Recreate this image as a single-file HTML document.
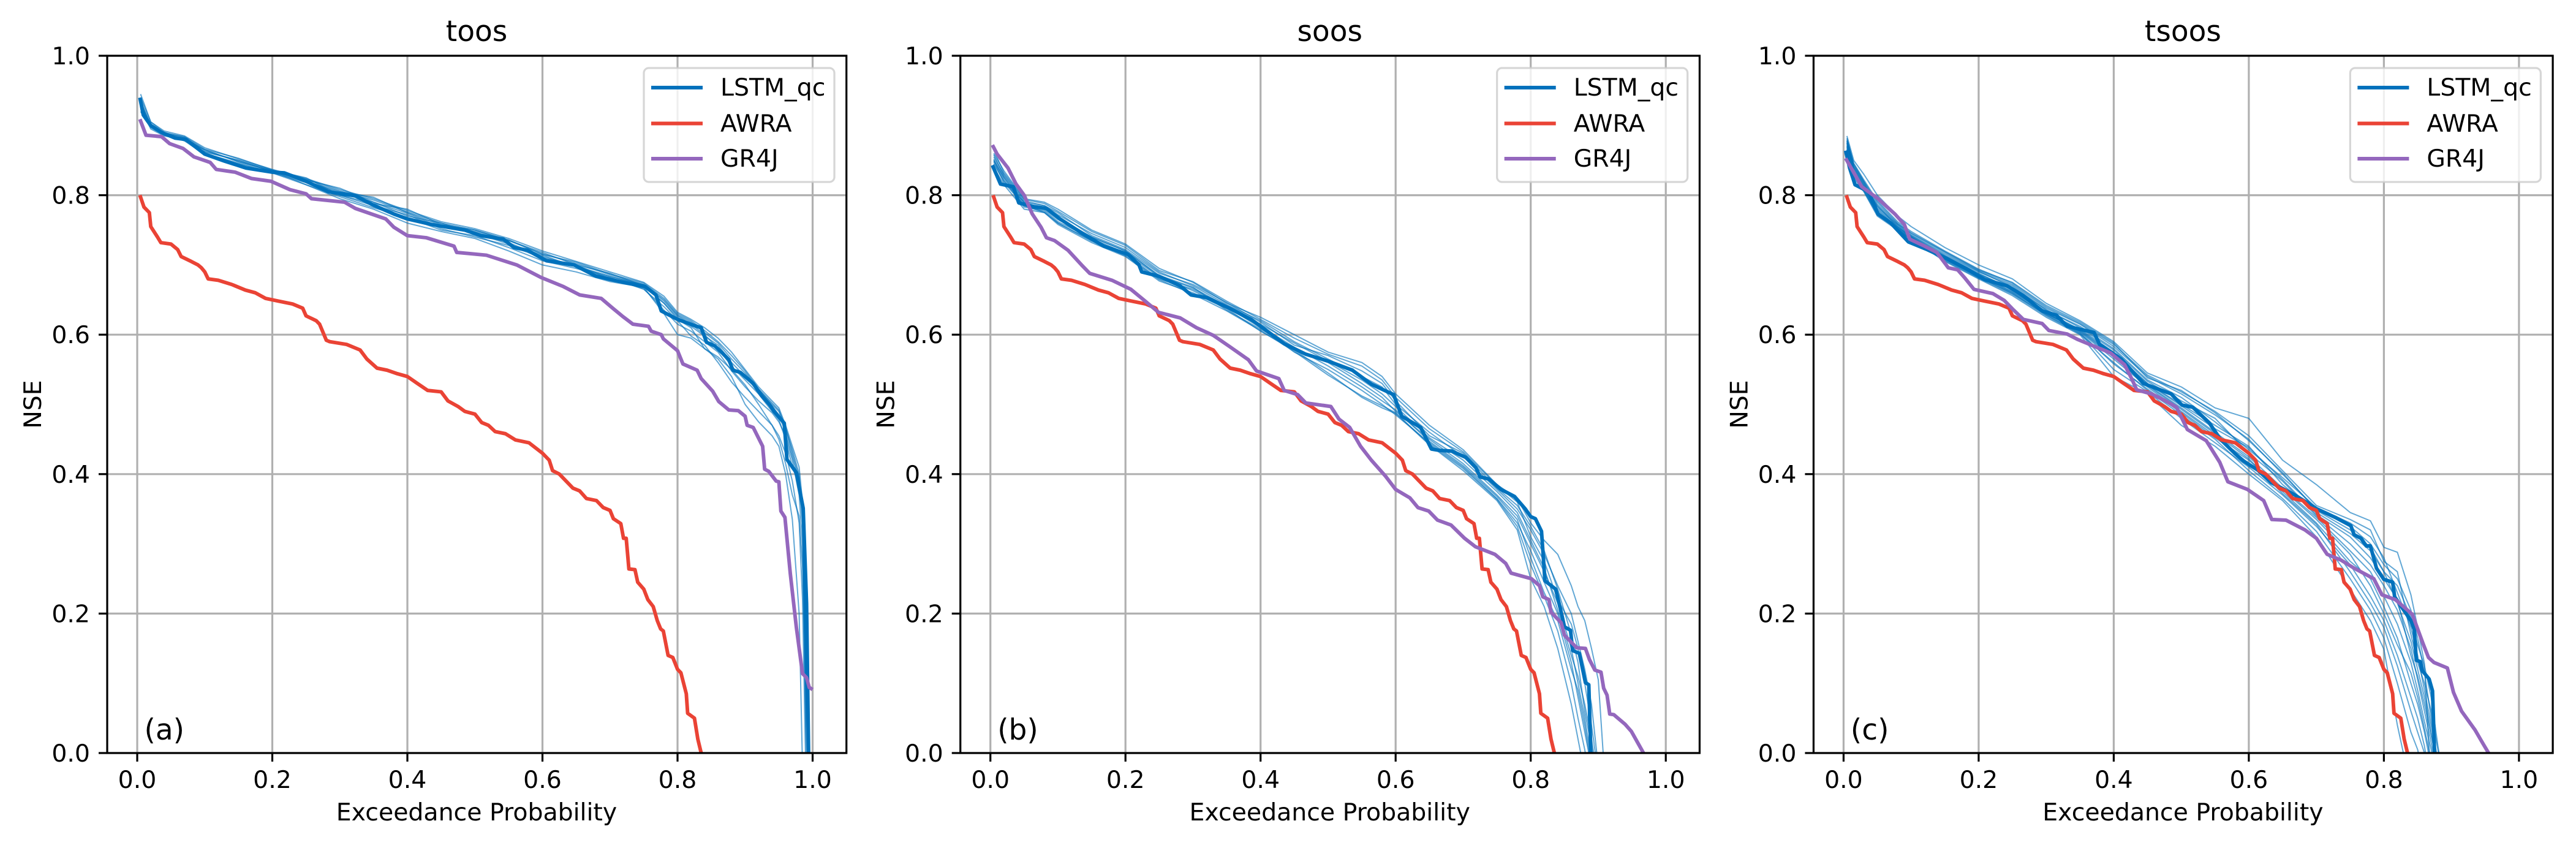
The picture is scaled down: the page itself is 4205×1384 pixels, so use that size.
<!DOCTYPE html>
<html lang="en">
<head>
<meta charset="utf-8">
<title>NSE exceedance curves</title>
<style>
html,body{margin:0;padding:0;background:#fff;overflow:hidden;width:4205px;height:1384px;}
svg{display:block;font-family:"DejaVu Sans","Liberation Sans",sans-serif;fill:#000;overflow:hidden;}
.tick-label,.axis-label,.legend-label{font-size:39.4px;}
.panel-title,.panel-letter{font-size:47px;}
polyline{fill:none;stroke-linejoin:round;stroke-linecap:butt;}
</style>
</head>
<body>
<svg id="figure" xmlns="http://www.w3.org/2000/svg" width="4205" height="1384" viewBox="0 0 4205 1384">
  <rect width="4205" height="1384" fill="#fff"/>
  <defs>
    <clipPath id="plot-clip"><rect x="175" y="91" width="1206.7" height="1138"/></clipPath>
  </defs>

  <g id="panel-a" transform="translate(0,0)">
    <g class="grid-layer"></g>
    <g class="curve-layer" clip-path="url(#plot-clip)"></g>
    <rect x="175" y="91" width="1206.7" height="1138" fill="none" stroke="#000" stroke-width="3.2"/>
    <g class="tick-layer"></g>
    <text class="panel-title" x="778" y="67" text-anchor="middle">toos</text>
    <text class="axis-label" x="778" y="1339" text-anchor="middle">Exceedance Probability</text>
    <text class="axis-label" transform="translate(67,660) rotate(-90)" text-anchor="middle">NSE</text>
    <text class="panel-letter" x="235.5" y="1207">(a)</text>
    <g>
      <rect x="1051" y="111" width="311" height="186" rx="8" fill="#fff" fill-opacity="0.8" stroke="#ccc" stroke-opacity="0.8" stroke-width="3.2"/>
      <line x1="1063" x2="1147" y1="143" y2="143" stroke="#0071BC" stroke-width="5.9"/>
      <text class="legend-label" x="1176" y="156">LSTM_qc</text>
      <line x1="1063" x2="1147" y1="201.5" y2="201.5" stroke="#EA4335" stroke-width="5.9"/>
      <text class="legend-label" x="1176" y="215">AWRA</text>
      <line x1="1063" x2="1147" y1="259" y2="259" stroke="#9467BD" stroke-width="5.9"/>
      <text class="legend-label" x="1176" y="272">GR4J</text>
    </g>
  </g>

  <g id="panel-b" transform="translate(1392.7,0)">
    <g class="grid-layer"></g>
    <g class="curve-layer" clip-path="url(#plot-clip)"></g>
    <rect x="175" y="91" width="1206.7" height="1138" fill="none" stroke="#000" stroke-width="3.2"/>
    <g class="tick-layer"></g>
    <text class="panel-title" x="778" y="67" text-anchor="middle">soos</text>
    <text class="axis-label" x="778" y="1339" text-anchor="middle">Exceedance Probability</text>
    <text class="axis-label" transform="translate(67,660) rotate(-90)" text-anchor="middle">NSE</text>
    <text class="panel-letter" x="235.5" y="1207">(b)</text>
    <g>
      <rect x="1051" y="111" width="311" height="186" rx="8" fill="#fff" fill-opacity="0.8" stroke="#ccc" stroke-opacity="0.8" stroke-width="3.2"/>
      <line x1="1063" x2="1147" y1="143" y2="143" stroke="#0071BC" stroke-width="5.9"/>
      <text class="legend-label" x="1176" y="156">LSTM_qc</text>
      <line x1="1063" x2="1147" y1="201.5" y2="201.5" stroke="#EA4335" stroke-width="5.9"/>
      <text class="legend-label" x="1176" y="215">AWRA</text>
      <line x1="1063" x2="1147" y1="259" y2="259" stroke="#9467BD" stroke-width="5.9"/>
      <text class="legend-label" x="1176" y="272">GR4J</text>
    </g>
  </g>

  <g id="panel-c" transform="translate(2785.4,0)">
    <g class="grid-layer"></g>
    <g class="curve-layer" clip-path="url(#plot-clip)"></g>
    <rect x="175" y="91" width="1206.7" height="1138" fill="none" stroke="#000" stroke-width="3.2"/>
    <g class="tick-layer"></g>
    <text class="panel-title" x="778" y="67" text-anchor="middle">tsoos</text>
    <text class="axis-label" x="778" y="1339" text-anchor="middle">Exceedance Probability</text>
    <text class="axis-label" transform="translate(67,660) rotate(-90)" text-anchor="middle">NSE</text>
    <text class="panel-letter" x="235.5" y="1207">(c)</text>
    <g>
      <rect x="1051" y="111" width="311" height="186" rx="8" fill="#fff" fill-opacity="0.8" stroke="#ccc" stroke-opacity="0.8" stroke-width="3.2"/>
      <line x1="1063" x2="1147" y1="143" y2="143" stroke="#0071BC" stroke-width="5.9"/>
      <text class="legend-label" x="1176" y="156">LSTM_qc</text>
      <line x1="1063" x2="1147" y1="201.5" y2="201.5" stroke="#EA4335" stroke-width="5.9"/>
      <text class="legend-label" x="1176" y="215">AWRA</text>
      <line x1="1063" x2="1147" y1="259" y2="259" stroke="#9467BD" stroke-width="5.9"/>
      <text class="legend-label" x="1176" y="272">GR4J</text>
    </g>
  </g>
</svg>

<script>
const tickValues = [0, 0.2, 0.4, 0.6, 0.8, 1.0];
const tickLabels = ["0.0", "0.2", "0.4", "0.6", "0.8", "1.0"];

const awraX = [.004,.01,.018,.02,.03,.035,.05,.06,.065,.08,.09,.095,.10,.105,.12,.14,.16,.175,.19,.21,.23,.245,.25,.265,.27,.28,.285,.31,.33,.34,.355,.37,.385,.40,.415,.43,.45,.46,.475,.485,.50,.51,.52,.53,.545,.56,.58,.60,.61,.615,.625,.635,.645,.655,.665,.68,.69,.70,.705,.716,.72,.724,.728,.737,.741,.75,.756,.764,.77,.775,.779,.786,.793,.80,.805,.813,.815,.825,.83,.835];
const awraY = [.80,.783,.775,.755,.74,.732,.73,.722,.712,.705,.70,.696,.69,.68,.678,.672,.664,.66,.652,.648,.644,.638,.627,.62,.615,.592,.59,.586,.578,.565,.552,.549,.544,.54,.53,.52,.518,.505,.497,.49,.486,.474,.47,.461,.458,.449,.445,.43,.42,.405,.40,.39,.38,.376,.365,.362,.352,.348,.336,.329,.308,.308,.264,.263,.245,.235,.22,.21,.19,.178,.175,.14,.137,.12,.115,.085,.057,.05,.02,0];

const lstmAX = [.004,.009,.02,.036,.056,.072,.10,.129,.161,.20,.218,.25,.283,.323,.347,.38,.40,.436,.485,.509,.542,.558,.578,.606,.647,.679,.72,.752,.768,.776,.80,.825,.835,.843,.855,.867,.876,.882,.893,.912,.924,.936,.943,.958,.962,.976,.986,.991,.994];
const lstmAY = [.94,.915,.90,.89,.882,.88,.859,.849,.839,.833,.832,.82,.805,.799,.787,.773,.766,.758,.75,.742,.737,.725,.721,.706,.70,.684,.675,.669,.657,.634,.622,.613,.61,.589,.584,.573,.564,.549,.546,.53,.513,.50,.49,.473,.421,.402,.351,.214,0];
const gr4jAX = [.004,.013,.036,.048,.068,.084,.108,.117,.145,.169,.198,.226,.25,.258,.307,.323,.368,.38,.40,.428,.469,.473,.517,.562,.598,.631,.655,.687,.704,.719,.734,.757,.761,.776,.779,.80,.808,.829,.835,.852,.861,.876,.89,.90,.903,.912,.926,.929,.935,.946,.95,.953,.959,.967,.976,.985,.991,.995,1.0];
const gr4jAY = [.909,.886,.884,.874,.867,.855,.847,.837,.833,.824,.82,.808,.802,.795,.79,.781,.766,.754,.742,.739,.727,.718,.714,.70,.682,.669,.657,.652,.638,.626,.615,.612,.605,.60,.594,.577,.558,.549,.537,.519,.504,.492,.491,.483,.47,.467,.44,.407,.404,.39,.389,.347,.338,.257,.18,.114,.108,.094,.091];
const gridA = [.005,.02,.04,.07,.1,.15,.2,.25,.3,.35,.4,.45,.5,.55,.6,.65,.7,.75,.78,.8,.82,.84,.86,.88,.9,.92,.94,.95,.96,.97,.98,.985,.99,.995];
const membersA = [
 [.945,.905,.892,.885,.868,.852,.837,.824,.808,.795,.778,.762,.752,.738,.72,.705,.69,.675,.655,.632,.622,.61,.595,.575,.55,.525,.505,.495,.47,.44,.41,.36,.15,-.05],
 [.935,.90,.888,.882,.865,.848,.835,.82,.805,.797,.775,.757,.748,.735,.716,.702,.686,.672,.65,.628,.618,.603,.588,.565,.545,.522,.50,.49,.465,.435,.40,.34,.12,-.05],
 [.93,.898,.888,.878,.862,.85,.834,.822,.81,.79,.77,.76,.745,.732,.712,.698,.684,.67,.645,.625,.612,.598,.585,.56,.54,.518,.498,.485,.46,.425,.39,.33,.08,-.05],
 [.925,.895,.885,.88,.86,.845,.832,.818,.80,.785,.772,.752,.74,.728,.71,.70,.68,.666,.635,.615,.605,.59,.575,.548,.525,.505,.488,.475,.455,.42,.37,.30,.02,-.08],
 [.94,.905,.89,.88,.865,.848,.835,.815,.798,.782,.768,.75,.742,.725,.706,.695,.682,.665,.64,.62,.598,.585,.56,.532,.51,.49,.47,.455,.43,.39,.33,.22,-.03,-.1],
 [.92,.897,.886,.878,.858,.842,.832,.815,.795,.78,.76,.748,.738,.72,.70,.69,.676,.668,.63,.60,.595,.58,.565,.54,.50,.475,.455,.44,.40,.335,.20,-.02,-.1,-.1],
 [.935,.90,.89,.883,.863,.85,.836,.825,.80,.788,.78,.758,.75,.735,.718,.70,.688,.67,.645,.622,.61,.58,.568,.55,.528,.50,.47,.45,.415,.37,.34,.27,.10,-.06],
 [.928,.9,.887,.88,.86,.846,.833,.82,.803,.79,.774,.754,.746,.73,.714,.697,.683,.672,.648,.627,.615,.60,.58,.555,.535,.515,.49,.478,.45,.41,.385,.35,.18,-.03],
 [.93,.902,.889,.884,.866,.853,.836,.823,.806,.793,.776,.76,.75,.736,.715,.704,.687,.674,.652,.63,.62,.606,.59,.57,.548,.522,.502,.492,.468,.43,.395,.345,.05,-.06]
];

const lstmBX = [.003,.015,.034,.042,.062,.083,.103,.135,.168,.204,.22,.224,.249,.281,.297,.321,.354,.386,.41,.435,.467,.50,.536,.564,.597,.609,.637,.653,.665,.683,.704,.719,.725,.738,.756,.776,.792,.80,.807,.816,.819,.821,.837,.847,.85,.859,.862,.872,.881,.886,.889];
const lstmBY = [.843,.816,.812,.789,.784,.781,.766,.746,.727,.715,.70,.69,.684,.67,.657,.653,.638,.622,.605,.587,.572,.562,.549,.529,.514,.483,.467,.436,.434,.433,.424,.409,.396,.393,.378,.368,.35,.339,.336,.318,.277,.247,.235,.194,.181,.176,.147,.143,.101,.098,0];
const gr4jBX = [.003,.01,.026,.038,.05,.062,.075,.083,.095,.115,.135,.147,.18,.208,.228,.249,.281,.305,.33,.354,.382,.394,.427,.435,.455,.467,.504,.516,.532,.548,.564,.585,.60,.621,.633,.649,.662,.682,.702,.718,.747,.763,.771,.801,.813,.818,.827,.83,.845,.85,.868,.881,.887,.895,.904,.908,.913,.917,.923,.94,.949,.967];
const gr4jBY = [.872,.859,.839,.816,.80,.773,.754,.739,.735,.721,.70,.688,.678,.665,.649,.632,.624,.61,.599,.583,.564,.548,.537,.52,.514,.502,.497,.479,.467,.44,.42,.397,.378,.366,.352,.347,.334,.327,.308,.296,.285,.272,.258,.25,.24,.224,.22,.202,.187,.169,.151,.15,.134,.119,.116,.093,.083,.056,.055,.041,.031,0];
const gridB = [.005,.02,.05,.08,.1,.15,.2,.25,.3,.35,.4,.45,.5,.55,.58,.6,.65,.7,.75,.78,.8,.82,.84,.86,.87,.88,.89,.9,.91];
const membersB = [
 [.86,.835,.795,.79,.78,.75,.73,.695,.675,.645,.625,.60,.575,.56,.54,.515,.47,.435,.385,.365,.33,.305,.285,.24,.21,.19,.15,.105,-.04],
 [.85,.825,.785,.775,.76,.735,.715,.68,.665,.64,.61,.575,.55,.52,.50,.485,.445,.41,.365,.33,.29,.245,.20,.13,.08,.03,-.02,-.1,-.1],
 [.845,.82,.79,.78,.765,.74,.72,.685,.668,.635,.608,.58,.56,.53,.51,.49,.45,.415,.37,.34,.30,.26,.215,.15,.10,.05,-.01,-.1,-.1],
 [.855,.83,.792,.785,.772,.745,.725,.69,.67,.643,.62,.59,.565,.54,.525,.50,.46,.425,.378,.35,.32,.285,.24,.20,.16,.12,.07,-.02,-.1],
 [.84,.815,.78,.775,.758,.732,.712,.677,.66,.637,.605,.578,.545,.51,.495,.487,.442,.405,.362,.32,.25,.21,.15,.07,.02,-.03,-.1,-.1,-.1],
 [.858,.828,.79,.785,.775,.742,.722,.688,.672,.646,.618,.585,.57,.548,.53,.505,.455,.43,.38,.355,.325,.29,.235,.17,.13,.06,.01,-.05,-.1],
 [.85,.822,.783,.778,.762,.738,.717,.683,.663,.638,.612,.582,.555,.525,.505,.492,.447,.412,.368,.335,.28,.23,.19,.12,.09,.04,-.02,-.1,-.1],
 [.865,.832,.794,.788,.777,.748,.728,.692,.676,.648,.622,.595,.572,.555,.535,.51,.465,.432,.384,.36,.31,.275,.22,.185,.15,.10,.04,-.03,-.1],
 [.848,.818,.786,.776,.76,.734,.713,.679,.658,.634,.606,.576,.542,.512,.498,.488,.443,.408,.364,.325,.27,.225,.175,.10,.05,.005,-.05,-.1,-.1],
 [.852,.826,.788,.781,.768,.74,.72,.684,.667,.641,.615,.588,.562,.535,.515,.497,.452,.42,.375,.345,.305,.265,.205,.14,.11,.07,.02,-.04,-.1]
];

const lstmCX = [.003,.009,.017,.037,.051,.07,.096,.124,.153,.181,.209,.242,.266,.294,.315,.331,.371,.379,.411,.444,.485,.501,.517,.541,.558,.58,.592,.613,.633,.668,.701,.728,.751,.756,.766,.774,.78,.789,.80,.813,.816,.84,.845,.848,.854,.857,.867,.872,.875];
const lstmCY = [.864,.839,.815,.805,.773,.76,.733,.722,.709,.695,.679,.67,.656,.634,.628,.612,.603,.586,.565,.53,.515,.499,.496,.474,.45,.429,.419,.406,.388,.37,.35,.338,.326,.313,.308,.297,.297,.265,.249,.245,.224,.19,.177,.133,.131,.118,.106,.089,0];
const gr4jCX = [.003,.013,.027,.051,.076,.09,.098,.12,.138,.155,.169,.179,.193,.221,.238,.25,.266,.294,.304,.331,.347,.367,.395,.416,.426,.434,.456,.477,.493,.509,.537,.557,.569,.598,.622,.634,.655,.683,.70,.716,.736,.756,.785,.797,.817,.842,.858,.866,.874,.894,.903,.915,.935,.947,.955];
const gr4jCY = [.853,.836,.812,.795,.773,.758,.737,.727,.718,.696,.693,.682,.665,.659,.649,.637,.622,.616,.606,.601,.593,.585,.574,.557,.538,.521,.515,.505,.496,.464,.448,.417,.389,.378,.362,.335,.334,.32,.308,.285,.277,.265,.25,.227,.22,.199,.157,.137,.13,.122,.087,.06,.033,.013,0];
const gridC = [.005,.015,.03,.05,.08,.1,.15,.2,.25,.3,.35,.4,.45,.5,.55,.6,.65,.7,.75,.78,.8,.82,.84,.85,.86,.87,.88,.89];
const membersC = [
 [.885,.85,.83,.80,.77,.755,.725,.70,.68,.645,.62,.59,.545,.525,.495,.48,.42,.385,.345,.333,.295,.288,.227,.18,.128,-.05,-.1,-.1],
 [.87,.84,.815,.785,.755,.74,.712,.688,.665,.63,.608,.575,.53,.50,.47,.44,.385,.345,.315,.29,.26,.215,.16,.12,.08,.03,-.03,-.1],
 [.875,.835,.81,.775,.75,.735,.708,.682,.66,.628,.602,.55,.518,.48,.445,.41,.37,.325,.27,.225,.19,.14,.08,.05,.01,-.05,-.1,-.1],
 [.865,.825,.805,.77,.75,.737,.705,.68,.656,.625,.60,.54,.515,.47,.44,.40,.362,.31,.235,.19,.149,.04,-.05,-.1,-.1,-.1,-.1,-.1],
 [.88,.845,.82,.79,.76,.745,.718,.692,.672,.638,.615,.583,.54,.515,.485,.45,.40,.35,.325,.30,.27,.25,.205,.165,.115,.05,-.02,-.1],
 [.878,.842,.818,.782,.757,.742,.714,.69,.67,.635,.612,.58,.535,.51,.475,.435,.395,.352,.33,.31,.28,.23,.18,.14,.09,.04,-.01,-.1],
 [.868,.83,.808,.774,.752,.738,.71,.684,.662,.632,.604,.565,.525,.49,.455,.415,.375,.33,.275,.25,.21,.165,.10,.07,.03,-.02,-.1,-.1],
 [.872,.838,.812,.778,.754,.74,.711,.686,.664,.63,.606,.57,.528,.495,.46,.425,.38,.338,.29,.26,.225,.185,.13,.09,.045,.005,-.05,-.1],
 [.862,.828,.806,.772,.751,.736,.706,.681,.658,.627,.601,.56,.52,.485,.45,.405,.365,.318,.25,.205,.165,.10,.03,.005,-.04,-.1,-.1,-.1],
 [.876,.84,.816,.784,.758,.743,.716,.691,.668,.636,.61,.578,.533,.505,.48,.43,.39,.34,.30,.27,.24,.205,.15,.105,.06,.015,-.04,-.1],
 [.882,.846,.822,.792,.762,.748,.72,.694,.674,.64,.616,.586,.542,.518,.49,.455,.405,.355,.335,.32,.275,.26,.17,.13,.10,.06,.005,-.05],
 [.866,.832,.807,.773,.752,.737,.707,.683,.659,.629,.603,.558,.522,.488,.452,.42,.378,.335,.285,.24,.20,.155,.115,.08,.035,-.01,-.1,-.1],
 [.874,.836,.813,.78,.755,.741,.713,.687,.666,.633,.607,.572,.53,.498,.465,.438,.392,.342,.31,.28,.25,.22,.14,.11,.07,.025,-.02,-.1],
 [.87,.834,.811,.776,.753,.739,.709,.685,.661,.631,.605,.568,.527,.493,.458,.422,.372,.328,.26,.215,.18,.125,.06,.03,.0,-.05,-.1,-.1],
 [.878,.843,.819,.787,.759,.746,.719,.693,.675,.642,.618,.588,.538,.52,.488,.448,.402,.348,.32,.295,.26,.24,.195,.155,.125,.08,.01,-.05]
];

const SVG_NS = "http://www.w3.org/2000/svg";
const xScale = v => 224 + v * 1102.5;
const yScale = v => 1229 - v * 1138;

function drawCurve(layer, xs, ys, color, width, opacity) {
  const line = document.createElementNS(SVG_NS, "polyline");
  const pts = [];
  for (let i = 0; i < ys.length; i++) {
    pts.push(xScale(xs[i]).toFixed(1) + "," + yScale(ys[i]).toFixed(1));
    if (ys[i] < 0) break;
  }
  line.setAttribute("points", pts.join(" "));
  line.setAttribute("stroke", color);
  line.setAttribute("stroke-width", width);
  line.setAttribute("stroke-opacity", opacity);
  layer.appendChild(line);
  return line;
}

function drawAxes(panel) {
  const grid = panel.querySelector(".grid-layer");
  const ticks = panel.querySelector(".tick-layer");
  tickValues.forEach((v, i) => {
    const gx = document.createElementNS(SVG_NS, "line");
    gx.setAttribute("x1", xScale(v)); gx.setAttribute("x2", xScale(v));
    gx.setAttribute("y1", 91); gx.setAttribute("y2", 1229);
    gx.setAttribute("stroke", "#b0b0b0"); gx.setAttribute("stroke-width", 3.2);
    
    
    grid.appendChild(gx);

    const gy = document.createElementNS(SVG_NS, "line");
    gy.setAttribute("x1", 175); gy.setAttribute("x2", 1381.7);
    gy.setAttribute("y1", yScale(v)); gy.setAttribute("y2", yScale(v));
    gy.setAttribute("stroke", "#b0b0b0"); gy.setAttribute("stroke-width", 3.2);
    
    
    grid.appendChild(gy);

    const tx = document.createElementNS(SVG_NS, "line");
    tx.setAttribute("x1", xScale(v)); tx.setAttribute("x2", xScale(v));
    tx.setAttribute("y1", 1229); tx.setAttribute("y2", 1243);
    tx.setAttribute("stroke", "#000"); tx.setAttribute("stroke-width", 3.2);
    
    
    ticks.appendChild(tx);

    const ty = document.createElementNS(SVG_NS, "line");
    ty.setAttribute("x1", 161); ty.setAttribute("x2", 175);
    ty.setAttribute("y1", yScale(v)); ty.setAttribute("y2", yScale(v));
    ty.setAttribute("stroke", "#000"); ty.setAttribute("stroke-width", 3.2);
    
    
    ticks.appendChild(ty);

    const lx = document.createElementNS(SVG_NS, "text");
    lx.setAttribute("class", "tick-label");
    lx.setAttribute("x", xScale(v)); lx.setAttribute("y", 1286);
    lx.setAttribute("text-anchor", "middle");
    
    
    lx.textContent = tickLabels[i];
    ticks.appendChild(lx);

    const ly = document.createElementNS(SVG_NS, "text");
    ly.setAttribute("class", "tick-label");
    ly.setAttribute("x", 147); ly.setAttribute("y", yScale(v) + 14);
    ly.setAttribute("text-anchor", "end");
    
    
    ly.textContent = tickLabels[i];
    ticks.appendChild(ly);
  });
}

function drawPanel(id, grid, members, lstmX, lstmY, gr4jX, gr4jY) {
  const panel = document.getElementById(id);
  drawAxes(panel);
  const layer = panel.querySelector(".curve-layer");
  members.forEach(m => {
    const thin = drawCurve(layer, grid, m, "#0071BC", 2, 0.62);
    
    
  });
  const lstm = drawCurve(layer, lstmX, lstmY, "#0071BC", 5.9, 1);
  
  
  const awra = drawCurve(layer, awraX, awraY, "#EA4335", 5.9, 1);
  
  
  const gr4j = drawCurve(layer, gr4jX, gr4jY, "#9467BD", 5.9, 1);
  
  
}

drawPanel("panel-a", gridA, membersA, lstmAX, lstmAY, gr4jAX, gr4jAY);
drawPanel("panel-b", gridB, membersB, lstmBX, lstmBY, gr4jBX, gr4jBY);
drawPanel("panel-c", gridC, membersC, lstmCX, lstmCY, gr4jCX, gr4jCY);
</script>
</body>
</html>
